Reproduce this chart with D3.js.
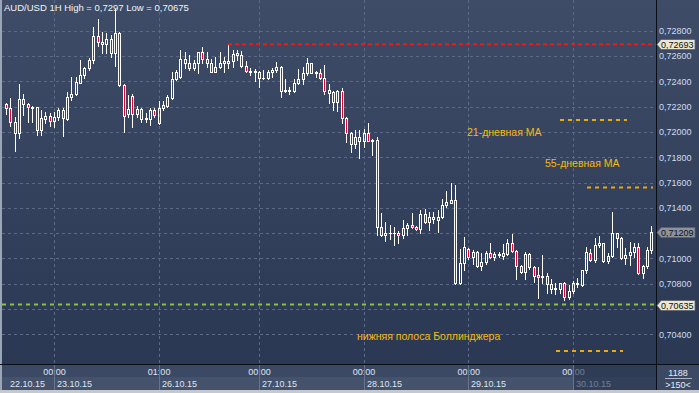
<!DOCTYPE html>
<html>
<head>
<meta charset="utf-8">
<script src="https://d3js.org/d3.v7.min.js"></script>
<style>
  body { margin: 0; background: #2c3a55; }
  text { font-family: "Liberation Sans", Arial, sans-serif; }
</style>
</head>
<body>
<div id="chart"></div>
<script>

// AUD/USD 1H candles, 22.10.15 13:00 .. 30.10.15
var open = [0.72220,0.72186,0.72080,0.71993,0.72258,0.72218,0.72186,0.72194,0.72015,0.72099,
  0.72128,0.72086,0.72120,0.72173,0.72102,0.72273,0.72300,0.72389,0.72450,0.72503,
  0.72568,0.72758,0.72693,0.72693,0.72732,0.72626,0.72784,0.72371,0.72141,0.72284,
  0.72141,0.72178,0.72102,0.72102,0.72173,0.72072,0.72186,0.72205,0.72265,0.72416,
  0.72436,0.72574,0.72542,0.72508,0.72542,0.72629,0.72574,0.72542,0.72476,0.72511,
  0.72547,0.72547,0.72563,0.72608,0.72608,0.72521,0.72476,0.72484,0.72476,0.72424,
  0.72424,0.72476,0.72489,0.72515,0.72326,0.72331,0.72326,0.72384,0.72416,0.72468,
  0.72542,0.72468,0.72468,0.72424,0.72310,0.72318,0.72239,0.72326,0.72107,0.71904,
  0.71962,0.71962,0.71930,0.71993,0.71930,0.71935,0.71250,0.71184,0.71198,0.71202,
  0.71202,0.71184,0.71237,0.71263,0.71245,0.71229,0.71350,0.71289,0.71324,0.71303,
  0.71329,0.71421,0.71440,0.71461,0.70807,0.70965,0.71071,0.71008,0.71052,0.70939,
  0.70973,0.71039,0.71008,0.71034,0.71018,0.71034,0.71123,0.71060,0.70894,0.70894,
  0.71034,0.70933,0.70868,0.70850,0.70860,0.70797,0.70755,0.70755,0.70802,0.70691,
  0.70744,0.70802,0.70789,0.70907,0.71044,0.70986,0.71105,0.71118,0.70981,0.71018,
  0.71198,0.71158,0.71000,0.71026,0.71052,0.71092,0.70881,0.70939,0.71066];
var high = [0.72231,0.72265,0.72120,0.72379,0.72300,0.72231,0.72205,0.72200,0.72173,0.72157,
  0.72152,0.72159,0.72186,0.72186,0.72318,0.72432,0.72436,0.72568,0.72515,0.72582,
  0.72832,0.72893,0.72790,0.72782,0.72766,0.72970,0.72792,0.72375,0.72292,0.72300,
  0.72205,0.72186,0.72152,0.72189,0.72189,0.72246,0.72246,0.72292,0.72476,0.72489,
  0.72648,0.72634,0.72608,0.72568,0.72634,0.72669,0.72634,0.72574,0.72590,0.72634,
  0.72590,0.72693,0.72648,0.72648,0.72642,0.72563,0.72503,0.72495,0.72484,0.72489,
  0.72489,0.72503,0.72550,0.72521,0.72416,0.72357,0.72416,0.72495,0.72511,0.72582,
  0.72547,0.72484,0.72495,0.72529,0.72379,0.72326,0.72331,0.72345,0.72115,0.72001,
  0.72015,0.72015,0.72020,0.72068,0.71940,0.71957,0.71356,0.71289,0.71263,0.71245,
  0.71218,0.71303,0.71281,0.71356,0.71255,0.71382,0.71387,0.71369,0.71369,0.71382,
  0.71467,0.71535,0.71598,0.71580,0.71071,0.71171,0.71079,0.71066,0.71060,0.71039,
  0.71060,0.71123,0.71050,0.71047,0.71113,0.71150,0.71192,0.71066,0.70947,0.71052,
  0.71039,0.70940,0.70931,0.71026,0.70881,0.70834,0.70802,0.70805,0.70810,0.70789,
  0.70823,0.70842,0.70912,0.71092,0.71071,0.71158,0.71176,0.71123,0.71044,0.71369,
  0.71202,0.71171,0.71079,0.71131,0.71118,0.71118,0.70947,0.71092,0.71255];
var low = [0.72141,0.72046,0.71851,0.71951,0.72133,0.72080,0.72080,0.71975,0.71975,0.72068,
  0.72046,0.72041,0.72094,0.71967,0.72094,0.72252,0.72295,0.72384,0.72424,0.72489,
  0.72542,0.72682,0.72621,0.72624,0.72590,0.72523,0.72365,0.72001,0.72120,0.72036,
  0.72120,0.72080,0.72080,0.72054,0.72120,0.72065,0.72173,0.72194,0.72260,0.72410,
  0.72424,0.72503,0.72489,0.72489,0.72463,0.72542,0.72515,0.72471,0.72471,0.72503,
  0.72476,0.72503,0.72515,0.72568,0.72515,0.72476,0.72450,0.72405,0.72357,0.72420,
  0.72416,0.72436,0.72476,0.72273,0.72313,0.72300,0.72318,0.72379,0.72379,0.72450,
  0.72463,0.72436,0.72416,0.72300,0.72231,0.72173,0.72167,0.72068,0.71922,0.71843,
  0.71872,0.71791,0.71883,0.71925,0.71817,0.71184,0.71180,0.71139,0.71150,0.71105,
  0.71123,0.71158,0.71184,0.71237,0.71224,0.71202,0.71277,0.71224,0.71277,0.71210,
  0.71316,0.71403,0.71435,0.70797,0.70797,0.70907,0.70992,0.70955,0.70935,0.70907,
  0.70955,0.71000,0.70987,0.71013,0.70992,0.71026,0.71052,0.70834,0.70886,0.70834,
  0.70913,0.70815,0.70684,0.70807,0.70728,0.70723,0.70718,0.70723,0.70675,0.70680,
  0.70723,0.70771,0.70782,0.70886,0.70981,0.70973,0.71092,0.70973,0.70960,0.71008,
  0.71092,0.70992,0.70955,0.70947,0.71008,0.70876,0.70842,0.70921,0.71039];
var close = [0.72186,0.72080,0.71993,0.72258,0.72218,0.72194,0.72194,0.72015,0.72107,0.72128,
  0.72086,0.72120,0.72173,0.72107,0.72273,0.72300,0.72397,0.72450,0.72503,0.72568,
  0.72758,0.72708,0.72708,0.72732,0.72626,0.72784,0.72371,0.72128,0.72178,0.72141,
  0.72178,0.72102,0.72107,0.72173,0.72133,0.72186,0.72212,0.72273,0.72416,0.72476,
  0.72574,0.72542,0.72508,0.72542,0.72629,0.72574,0.72542,0.72476,0.72511,0.72547,
  0.72563,0.72563,0.72616,0.72621,0.72521,0.72484,0.72484,0.72476,0.72424,0.72426,
  0.72476,0.72489,0.72515,0.72326,0.72331,0.72326,0.72384,0.72416,0.72468,0.72542,
  0.72468,0.72476,0.72424,0.72326,0.72331,0.72239,0.72326,0.72107,0.71993,0.71993,
  0.71904,0.71930,0.71993,0.71930,0.71935,0.71250,0.71184,0.71198,0.71202,0.71200,
  0.71184,0.71237,0.71263,0.71245,0.71229,0.71350,0.71289,0.71324,0.71308,0.71329,
  0.71421,0.71448,0.71461,0.70802,0.70965,0.71092,0.71008,0.71052,0.70939,0.70973,
  0.71044,0.71008,0.71034,0.71024,0.71039,0.71123,0.71060,0.70939,0.70939,0.71034,
  0.70933,0.70860,0.70850,0.70860,0.70797,0.70755,0.70763,0.70802,0.70691,0.70744,
  0.70802,0.70795,0.70907,0.71052,0.70986,0.71105,0.71123,0.70981,0.71018,0.71198,
  0.71158,0.71000,0.71026,0.71052,0.71092,0.70881,0.70939,0.71066,0.71209];

// axis labels
var priceTicks = [0.704,0.706,0.708,0.710,0.712,0.714,0.716,0.718,0.720,0.722,0.724,0.726,0.728];
var timeTicks = [11, 35, 58, 82, 106, 130];   // candle index of each time mark
var timeLabels = ["00:00","01:00","00:00","00:00","00:00","00:00"];
var dateLabels = ["22.10.15","23.10.15","26.10.15","27.10.15","28.10.15","29.10.15","30.10.15"];

var title = "AUD/USD 1H High = 0,7297 Low = 0,70675";
var highLevel = 0.72693, bandLevel = 0.70635, lastPrice = 0.71209;
var noteTexts = ["21-дневная МА","55-дневная МА","нижняя полоса Боллинджера"];
var barCount = "1188", zoomText = ">150<";

var W = 699, H = 393, plotR = 656, plotB = 364;

var svg = d3.select("#chart").append("svg")
    .attr("width", W).attr("height", H);

var defs = svg.append("defs");
var grad = defs.append("linearGradient").attr("id","bg")
    .attr("x1",0).attr("y1",0).attr("x2",0).attr("y2",1);
grad.append("stop").attr("offset","0%").attr("stop-color","#3f4c68");
grad.append("stop").attr("offset","100%").attr("stop-color","#2b3853");

// backgrounds
svg.append("rect").attr("width", W).attr("height", plotB).attr("fill","url(#bg)");
svg.append("rect").attr("y", plotB).attr("width", W).attr("height", 26).attr("fill","#3c4964");
svg.append("rect").attr("y", 377).attr("width", plotR).attr("height", 13).attr("fill","#44526c");
svg.append("rect").attr("y", 390).attr("width", W).attr("height", 3).attr("fill","#c4c8cf");
svg.append("rect").attr("width", 2).attr("height", 390).attr("fill","#9aa5b6");

var n = open.length;
var x = d3.scaleLinear().domain([0, 148]).range([6, 651.4]);
var y = d3.scaleLinear().domain([0.704, 0.728]).range([334.3, 30.7]);

// grid
var grid = svg.append("g").attr("stroke","#5a6a88").attr("stroke-dasharray","3,3").attr("shape-rendering","crispEdges");
grid.selectAll("line.h").data(priceTicks).enter().append("line")
    .attr("x1", 2).attr("x2", plotR)
    .attr("y1", function(d){ return Math.round(y(d)) + 0.5; })
    .attr("y2", function(d){ return Math.round(y(d)) + 0.5; });
grid.selectAll("line.v").data(timeTicks).enter().append("line")
    .attr("y1", 0).attr("y2", plotB)
    .attr("x1", function(d){ return Math.round(x(d)) + 0.5; })
    .attr("x2", function(d){ return Math.round(x(d)) + 0.5; });

// candles
var candles = d3.range(n).map(function(i){
  return {i: i, o: open[i], h: high[i], l: low[i], c: close[i]};
});
var cg = svg.append("g").attr("shape-rendering","crispEdges");
candles.forEach(function(d){
  var cx = Math.round(x(d.i));
  var top = Math.round(y(Math.max(d.o, d.c)));
  var bot = Math.round(y(Math.min(d.o, d.c)));
  var hy = Math.round(y(d.h)), ly = Math.round(y(d.l));
  cg.append("line").attr("x1", cx + 0.5).attr("x2", cx + 0.5)
    .attr("y1", hy).attr("y2", top).attr("stroke","#fff");
  cg.append("line").attr("x1", cx + 0.5).attr("x2", cx + 0.5)
    .attr("y1", bot).attr("y2", ly + 1).attr("stroke","#fff");
  if (bot - top <= 1) {
    cg.append("rect").attr("x", cx - 1).attr("y", top).attr("width", 3)
      .attr("height", bot - top + 1).attr("fill","#fff");
  } else {
    cg.append("rect").attr("x", cx - 0.5).attr("y", top + 0.5).attr("width", 2)
      .attr("height", bot - top).attr("stroke","#fff")
      .attr("fill", d.c < d.o ? "#e8002c" : "none");
  }
});

// level lines
svg.append("line").attr("x1", 228).attr("x2", plotR)
  .attr("y1", y(highLevel)).attr("y2", y(highLevel))
  .attr("stroke","#f01818").attr("stroke-width",2).attr("stroke-dasharray","4,3");
svg.append("line").attr("x1", 2).attr("x2", plotR)
  .attr("y1", y(bandLevel)).attr("y2", y(bandLevel))
  .attr("stroke","#8cc441").attr("stroke-width",2).attr("stroke-dasharray","4,4");

// legend notes
var noteCol = "#f5ba08";
var notes = svg.append("g").attr("font-size","10.5px").attr("fill", noteCol);
notes.append("text").attr("x", 467).attr("y", 136).text(noteTexts[0]);
notes.append("text").attr("x", 545).attr("y", 167).text(noteTexts[1]);
notes.append("text").attr("x", 357).attr("y", 340).text(noteTexts[2]);
var dash = svg.append("g").attr("stroke", "#e8aa10").attr("stroke-width",2).attr("stroke-dasharray","4,4");
dash.append("line").attr("x1",560).attr("x2",627).attr("y1",120).attr("y2",120);
dash.append("line").attr("x1",587).attr("x2",653).attr("y1",187.5).attr("y2",187.5);
dash.append("line").attr("x1",556).attr("x2",623).attr("y1",351).attr("y2",351);

// title
svg.append("text").attr("x", 4).attr("y", 11).attr("font-size","9.5px")
  .attr("fill","#f2f4f8").text(title);

// right price axis (labels under a price tag are hidden, as in the terminal)
var tagLevels = [highLevel, lastPrice, bandLevel];
var fmt = function(d){ return d3.format(".5f")(d).replace(".", ","); };
var shownTicks = priceTicks.filter(function(t){
  return tagLevels.every(function(v){ return Math.abs(y(t) - y(v)) > 9; });
});
var yAxis = svg.append("g").attr("transform","translate(" + plotR + ",0)")
  .call(d3.axisRight(y).tickValues(shownTicks).tickSize(0).tickPadding(3).tickFormat(fmt));
yAxis.select(".domain").remove();
yAxis.selectAll("text").attr("fill","#cfdcf0").attr("font-size","9px")
  .attr("font-family","Liberation Sans, Arial, sans-serif");

// bottom time axis
var xAxis = svg.append("g").attr("transform","translate(0," + plotB + ")")
  .call(d3.axisBottom(x).tickValues(timeTicks).tickSize(0).tickPadding(5)
    .tickFormat(function(d, i){ return timeLabels[i]; }));
xAxis.select(".domain").remove();
xAxis.selectAll("text").attr("fill","#dfe6f2").attr("font-size","9px")
  .attr("font-family","Liberation Sans, Arial, sans-serif");

svg.append("g").attr("stroke","#66748e").attr("shape-rendering","crispEdges")
  .selectAll("line").data(timeTicks).enter().append("line")
  .attr("x1", function(d){ return Math.round(x(d)) + 0.5; })
  .attr("x2", function(d){ return Math.round(x(d)) + 0.5; })
  .attr("y1", plotB).attr("y2", 390);

var datePos = [0].concat(timeTicks);
svg.append("g").attr("font-size","9px").attr("fill","#dfe6f2")
  .selectAll("text").data(dateLabels).enter().append("text")
  .attr("x", function(d, i){ return i == 0 ? 10 : Math.round(x(datePos[i])) + 3; })
  .attr("y", 386.5).text(function(d){ return d; });

// dimmed tail of the time axis
svg.append("rect").attr("x", Math.round(x(timeTicks[5])) + 1).attr("y", plotB)
  .attr("width", plotR - Math.round(x(timeTicks[5])) - 1).attr("height", 26)
  .attr("fill","#27344d").attr("opacity",0.6);

// separators
svg.append("line").attr("x1", plotR + 0.5).attr("x2", plotR + 0.5).attr("y1", 0).attr("y2", 390)
  .attr("stroke","#0a0e16");
svg.append("line").attr("x1", 0).attr("x2", W).attr("y1", plotB + 0.5).attr("y2", plotB + 0.5)
  .attr("stroke","#0a0e16");

// corner box
svg.append("text").attr("x", 678).attr("y", 376).attr("text-anchor","middle")
  .attr("font-size","9px").attr("fill","#e6ebf3").text(barCount);
svg.append("line").attr("x1", 665).attr("x2", 692).attr("y1", 378.5).attr("y2", 378.5)
  .attr("stroke","#aab4c4");
svg.append("text").attr("x", 678).attr("y", 388).attr("text-anchor","middle")
  .attr("font-size","9px").attr("fill","#e6ebf3").text(zoomText);

// price tags
function tag(v, fill) {
  var yc = Math.round(y(v)) + 0.5;
  var g = svg.append("g");
  g.append("path")
    .attr("d", "M657," + yc + " L661," + (yc - 5) + " L695," + (yc - 5) + " L695," + (yc + 5) + " L661," + (yc + 5) + " Z")
    .attr("fill", fill).attr("stroke","#59606c").attr("stroke-width",0.8);
  g.append("text").attr("x", 661).attr("y", yc).attr("dy","0.35em")
    .attr("font-size","9px").attr("fill","#111").text(fmt(v));
}
tag(highLevel, "#ece7d2");
tag(lastPrice, "#8d929b");
tag(bandLevel, "#ece7d2");

</script>
</body>
</html>
